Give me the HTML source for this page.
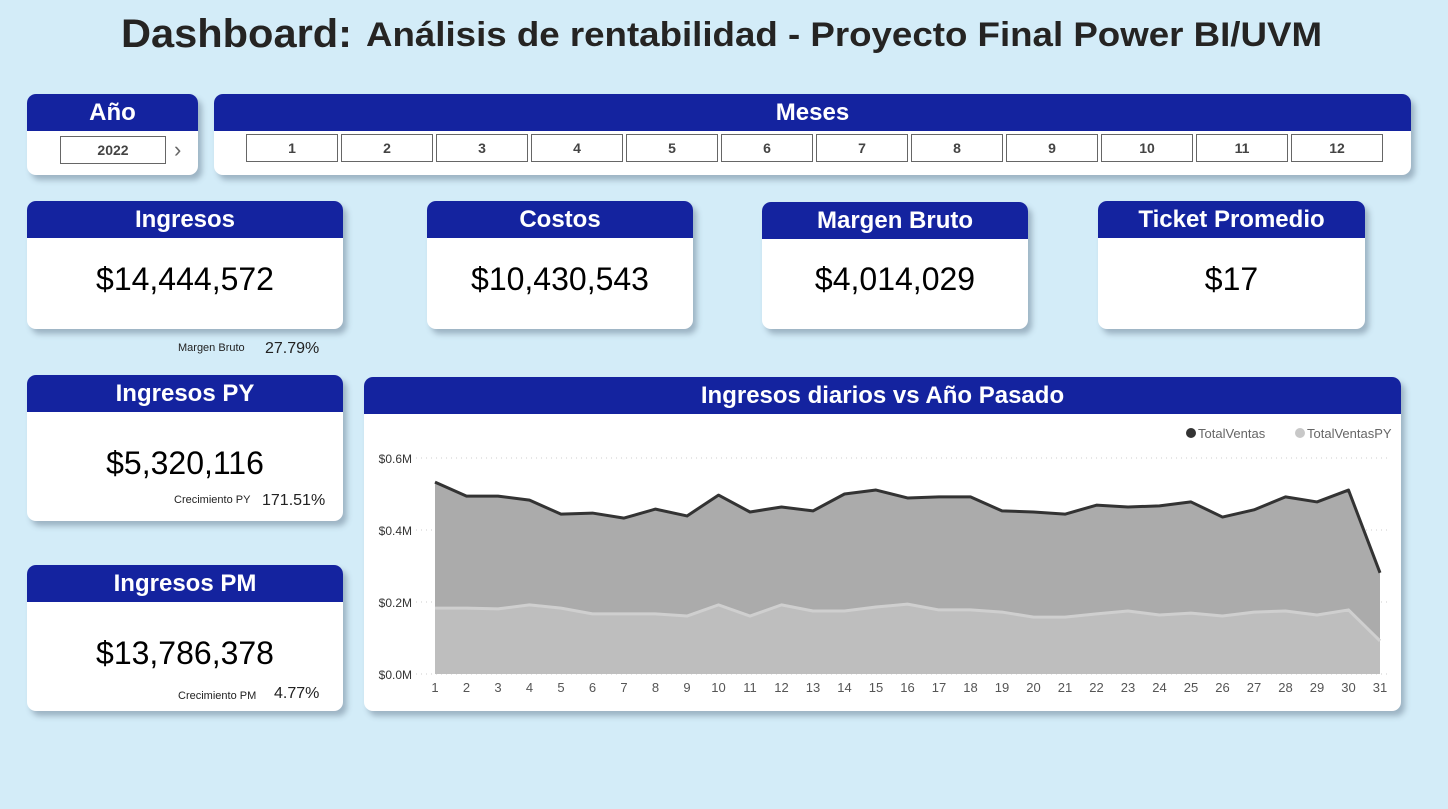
<!DOCTYPE html>
<html><head><meta charset="utf-8"><style>
body{margin:0;width:1448px;height:809px;background:#d3ecf8;font-family:"Liberation Sans",sans-serif;position:relative;overflow:hidden}
.card{position:absolute;background:#fff;border-radius:9px;box-shadow:4px 5px 6px rgba(90,110,130,.45);overflow:hidden}
.hd{background:#14239f;color:#fff;font-weight:bold;text-align:center;font-size:24px;height:37px;line-height:37px}
.val{position:absolute;left:0;right:0;text-align:center;font-size:32px;color:#000}
.sm{position:absolute;font-size:11px;color:#222}
.pct{position:absolute;font-size:16px;color:#222}
.mb{position:absolute;top:40px;width:90px;height:28px;border:1px solid #666;box-sizing:border-box;text-align:center;line-height:27px;font-size:14px;font-weight:bold;color:#444}
</style></head><body>
<svg style="position:absolute;left:0;top:0" width="1448" height="70">
<text x="121" y="47" font-family="Liberation Sans" font-weight="bold" font-size="40" fill="#252423" textLength="231" lengthAdjust="spacingAndGlyphs">Dashboard:</text>
<text x="366" y="46" font-family="Liberation Sans" font-weight="bold" font-size="34" fill="#252423" textLength="956" lengthAdjust="spacingAndGlyphs">Análisis de rentabilidad - Proyecto Final Power BI/UVM</text>
</svg>

<div class="card" style="left:27px;top:94px;width:171px;height:81px">
<div class="hd">Año</div>
<div class="mb" style="left:33px;top:42px;width:106px;">2022</div>
<div style="position:absolute;left:147px;top:43px;font-size:22px;color:#666">›</div>
</div>

<div class="card" style="left:214px;top:94px;width:1197px;height:81px">
<div class="hd">Meses</div>
<div id="months"></div>
</div>

<div class="card" style="left:27px;top:201px;width:316px;height:128px">
<div class="hd">Ingresos</div><div class="val" style="top:60px">$14,444,572</div></div>
<div class="sm" style="left:178px;top:342px">Margen Bruto</div>
<div class="pct" style="left:265px;top:340px">27.79%</div>

<div class="card" style="left:427px;top:201px;width:266px;height:128px">
<div class="hd">Costos</div><div class="val" style="top:60px">$10,430,543</div></div>
<div class="card" style="left:762px;top:202px;width:266px;height:127px">
<div class="hd">Margen Bruto</div><div class="val" style="top:59px">$4,014,029</div></div>
<div class="card" style="left:1098px;top:201px;width:267px;height:128px">
<div class="hd">Ticket Promedio</div><div class="val" style="top:60px">$17</div></div>

<div class="card" style="left:27px;top:375px;width:316px;height:146px">
<div class="hd">Ingresos PY</div><div class="val" style="top:70px">$5,320,116</div>
<div class="sm" style="left:147px;top:119px">Crecimiento PY</div>
<div class="pct" style="left:235px;top:117px">171.51%</div></div>

<div class="card" style="left:27px;top:565px;width:316px;height:146px">
<div class="hd">Ingresos PM</div><div class="val" style="top:70px">$13,786,378</div>
<div class="sm" style="left:151px;top:125px">Crecimiento PM</div>
<div class="pct" style="left:247px;top:120px">4.77%</div></div>

<div class="card" style="left:364px;top:377px;width:1037px;height:334px">
<div class="hd">Ingresos diarios vs Año Pasado</div>
<svg id="chart" width="1037" height="297" style="position:absolute;left:0;top:37px"></svg>
</div>

<script>
const days=[1,2,3,4,5,6,7,8,9,10,11,12,13,14,15,16,17,18,19,20,21,22,23,24,25,26,27,28,29,30,31];
const totalVentas=[0.533,0.494,0.494,0.483,0.444,0.447,0.433,0.458,0.439,0.497,0.450,0.464,0.453,0.500,0.511,0.489,0.492,0.492,0.453,0.450,0.444,0.469,0.464,0.467,0.478,0.436,0.456,0.492,0.478,0.511,0.281];
const totalVentasPY=[0.183,0.183,0.181,0.192,0.183,0.167,0.167,0.167,0.161,0.192,0.161,0.192,0.175,0.175,0.186,0.194,0.178,0.178,0.172,0.158,0.158,0.167,0.175,0.164,0.169,0.161,0.172,0.175,0.164,0.178,0.092];
const yTicks=[0,0.2,0.4,0.6];
const yTickLabels=["$0.0M","$0.2M","$0.4M","$0.6M"];
const months=[1,2,3,4,5,6,7,8,9,10,11,12];

const mc=document.getElementById('months');
months.forEach((m,i)=>{const d=document.createElement('div');d.className='mb';d.style.left=(32+i*95)+'px';d.style.width='92px';d.textContent=m;


mc.appendChild(d);});

const svg=document.getElementById('chart');const NS='http://www.w3.org/2000/svg';
// chart coords relative to svg (origin = page 364,414)
const x=d=>71+(d-1)*(945/30);
const y=v=>260-v*360;
function el(t,a,txt){const e=document.createElementNS(NS,t);for(const k in a)e.setAttribute(k,a[k]);if(txt!=null)e.textContent=txt;svg.appendChild(e);return e;}
yTicks.forEach((t,i)=>{
const g=el('line',{x1:52,x2:1025,y1:y(t),y2:y(t),stroke:'#ccc','stroke-dasharray':'1 4'});


const l=el('text',{x:48,y:y(t)+5,'text-anchor':'end','font-size':12,fill:'#333','font-family':'Liberation Sans'},yTickLabels[i]);


});
function area(vals,fill,stroke,name,sw){
let p='M'+x(days[0])+','+y(0);days.forEach((d,i)=>p+=' L'+x(d)+','+y(vals[i]));p+=' L'+x(days[days.length-1])+','+y(0)+'Z';
const a=el('path',{d:p,fill:fill});


const l=el('polyline',{points:days.map((d,i)=>x(d)+','+y(vals[i])).join(' '),fill:'none',stroke:stroke,'stroke-width':sw,'stroke-linejoin':'round'});


}
area(totalVentas,'#ababab','#333','total-ventas',3);
area(totalVentasPY,'#bebebe','#cfcfcf','total-ventas-py',3);
days.forEach(d=>{const t=el('text',{x:x(d),y:278,'text-anchor':'middle','font-size':13,fill:'#555','font-family':'Liberation Sans'},d);

});
const c1=el('circle',{cx:827,cy:19,r:5,fill:'#333'});


const t1=el('text',{x:834,y:24,'font-size':13,fill:'#666','font-family':'Liberation Sans'},'TotalVentas');


const c2=el('circle',{cx:936,cy:19,r:5,fill:'#c8c8c8'});


const t2=el('text',{x:943,y:24,'font-size':13,fill:'#666','font-family':'Liberation Sans'},'TotalVentasPY');


</script>
</body></html>
